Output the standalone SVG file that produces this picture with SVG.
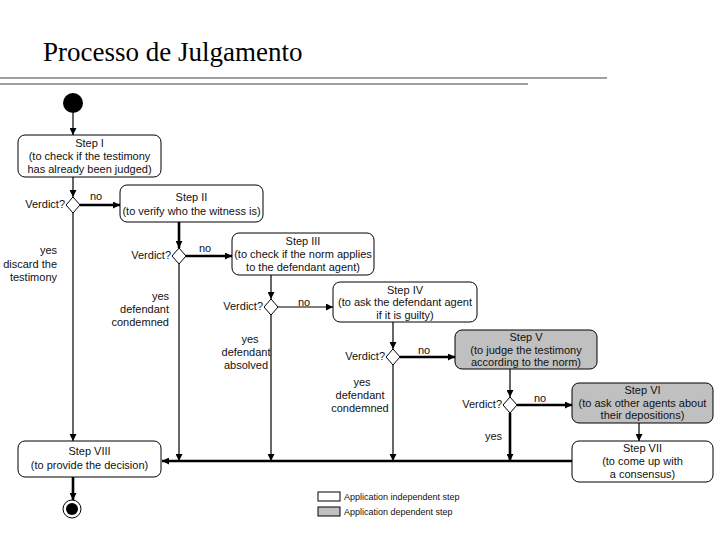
<svg xmlns="http://www.w3.org/2000/svg" width="720" height="540" viewBox="0 0 720 540">
<defs>
<marker id="ah" viewBox="0 0 10 10" refX="10" refY="5" markerWidth="7" markerHeight="7" markerUnits="userSpaceOnUse" orient="auto">
<path d="M0,0 L10,5 L0,10 z" fill="#000"/>
</marker>
</defs>
<style>
.t{font-family:"Liberation Sans",Arial,sans-serif;font-size:11px;fill:#111}
.c{text-anchor:middle}
.e{text-anchor:end}
.box{fill:#fff;stroke:#000;stroke-width:1}
.dep{fill:#c0c0c0;stroke:#000;stroke-width:1}
.dia{fill:#fff;stroke:#000;stroke-width:1}
.thin{stroke:#000;stroke-width:1.2;fill:none}
.thick{stroke:#000;stroke-width:2.6;fill:none}
.lg{font-family:"Liberation Sans",Arial,sans-serif;font-size:9px;fill:#111}
</style>
<rect width="720" height="540" fill="#fff"/>
<text x="43" y="61" font-family="Liberation Serif,'Times New Roman',serif" font-size="27" fill="#000">Processo de Julgamento</text>
<line x1="0" y1="78" x2="607" y2="78" stroke="#404050" stroke-width="1.2"/>
<line x1="0" y1="84" x2="528" y2="84" stroke="#404050" stroke-width="1.2"/>

<g id="connectors">
<line class="thin" x1="73" y1="113" x2="73" y2="135" marker-end="url(#ah)"/>
<line class="thin" x1="73" y1="177" x2="73" y2="197" marker-end="url(#ah)"/>
<line class="thick" x1="80" y1="205" x2="120" y2="205" marker-end="url(#ah)"/>
<line class="thin" x1="73" y1="213" x2="73" y2="441" marker-end="url(#ah)"/>
<line class="thick" x1="179" y1="222" x2="179" y2="248" marker-end="url(#ah)"/>
<line class="thick" x1="186" y1="256" x2="232" y2="256" marker-end="url(#ah)"/>
<line class="thin" x1="179" y1="264" x2="179" y2="461" marker-end="url(#ah)"/>
<line class="thin" x1="271" y1="275" x2="271" y2="299" marker-end="url(#ah)"/>
<line class="thin" x1="278" y1="307" x2="333" y2="307" marker-end="url(#ah)"/>
<line class="thin" x1="271" y1="315" x2="271" y2="461" marker-end="url(#ah)"/>
<line class="thin" x1="393" y1="322" x2="393" y2="349" marker-end="url(#ah)"/>
<line class="thick" x1="400" y1="357" x2="455" y2="357" marker-end="url(#ah)"/>
<line class="thin" x1="393" y1="365" x2="393" y2="461" marker-end="url(#ah)"/>
<line class="thin" x1="510" y1="369" x2="510" y2="397" marker-end="url(#ah)"/>
<line class="thick" x1="517" y1="405" x2="572" y2="405" marker-end="url(#ah)"/>
<line class="thick" x1="510" y1="413" x2="510" y2="461" marker-end="url(#ah)"/>
<line class="thin" x1="639" y1="423" x2="639" y2="441" marker-end="url(#ah)"/>
<line class="thick" x1="572" y1="461" x2="162" y2="461" marker-end="url(#ah)"/>
<line class="thick" x1="73" y1="477" x2="73" y2="500" marker-end="url(#ah)"/>
</g>

<g id="start"><circle cx="73" cy="103" r="10" fill="#000"/></g>

<g id="step1">
<rect class="box" x="18" y="135" width="143" height="42" rx="7"/>
<text class="t c" x="89.5" y="147">Step I</text>
<text class="t c" x="89.5" y="160">(to check if the testimony</text>
<text class="t c" x="89.5" y="173">has already been judged)</text>
</g>
<g id="d1">
<polygon class="dia" points="73,197 80,205 73,213 66,205"/>
<text class="t e" x="65" y="208">Verdict?</text>
<text class="t" x="90" y="200">no</text>
<text class="t e" x="57" y="254">yes</text>
<text class="t e" x="57" y="268">discard the</text>
<text class="t e" x="57" y="281">testimony</text>
</g>

<g id="step2">
<rect class="box" x="120" y="185" width="143" height="37" rx="7"/>
<text class="t c" x="191.5" y="201">Step II</text>
<text class="t c" x="191.5" y="215">(to verify who the witness is)</text>
</g>
<g id="d2">
<polygon class="dia" points="179,248 186,256 179,264 172,256"/>
<text class="t e" x="171" y="259">Verdict?</text>
<text class="t" x="199" y="252">no</text>
<text class="t e" x="169" y="300">yes</text>
<text class="t e" x="169" y="313">defendant</text>
<text class="t e" x="169" y="326">condemned</text>
</g>

<g id="step3">
<rect class="box" x="232" y="233" width="142" height="42" rx="7"/>
<text class="t c" x="303" y="245">Step III</text>
<text class="t c" x="303" y="258">(to check if the norm applies</text>
<text class="t c" x="303" y="271">to the defendant agent)</text>
</g>
<g id="d3">
<polygon class="dia" points="271,299 278,307 271,315 264,307"/>
<text class="t e" x="263" y="310">Verdict?</text>
<text class="t" x="298" y="306">no</text>
<text class="t c" x="250" y="343">yes</text>
<text class="t c" x="246" y="356">defendant</text>
<text class="t c" x="246" y="369">absolved</text>
</g>

<g id="step4">
<rect class="box" x="333" y="282" width="144" height="40" rx="7"/>
<text class="t c" x="405" y="294">Step IV</text>
<text class="t c" x="405" y="306">(to ask the defendant agent</text>
<text class="t c" x="405" y="319">if it is guilty)</text>
</g>
<g id="d4">
<polygon class="dia" points="393,349 400,357 393,365 386,357"/>
<text class="t e" x="385" y="360">Verdict?</text>
<text class="t" x="418" y="354">no</text>
<text class="t c" x="362" y="386">yes</text>
<text class="t c" x="360" y="399">defendant</text>
<text class="t c" x="360" y="412">condemned</text>
</g>

<g id="step5">
<rect class="dep" x="455" y="330" width="142" height="39" rx="7"/>
<text class="t c" x="526" y="341">Step V</text>
<text class="t c" x="526" y="354">(to judge the testimony</text>
<text class="t c" x="526" y="366">according to the norm)</text>
</g>
<g id="d5">
<polygon class="dia" points="510,397 517,405 510,413 503,405"/>
<text class="t e" x="502" y="408">Verdict?</text>
<text class="t" x="534" y="402">no</text>
<text class="t" x="485" y="440">yes</text>
</g>

<g id="step6">
<rect class="dep" x="572" y="383" width="141" height="40" rx="7"/>
<text class="t c" x="642.5" y="394">Step VI</text>
<text class="t c" x="642.5" y="407">(to ask other agents about</text>
<text class="t c" x="642.5" y="419">their depositions)</text>
</g>

<g id="step7">
<rect class="box" x="572" y="441" width="141" height="41" rx="7"/>
<text class="t c" x="642.5" y="452">Step VII</text>
<text class="t c" x="642.5" y="465">(to come up with</text>
<text class="t c" x="642.5" y="478">a consensus)</text>
</g>

<g id="step8">
<rect class="box" x="18" y="441" width="143" height="36" rx="7"/>
<text class="t c" x="89.5" y="455">Step VIII</text>
<text class="t c" x="89.5" y="469">(to provide the decision)</text>
</g>

<g id="end">
<circle cx="72" cy="509" r="9" fill="#fff" stroke="#000" stroke-width="1"/>
<circle cx="72" cy="509" r="6" fill="#000"/>
</g>

<g id="legend">
<rect x="318" y="492" width="22" height="9" fill="#fff" stroke="#000" stroke-width="1"/>
<text class="lg" x="344" y="500">Application independent step</text>
<rect x="318" y="507" width="22" height="9" fill="#c0c0c0" stroke="#000" stroke-width="1"/>
<text class="lg" x="344" y="515">Application dependent step</text>
</g>
</svg>
